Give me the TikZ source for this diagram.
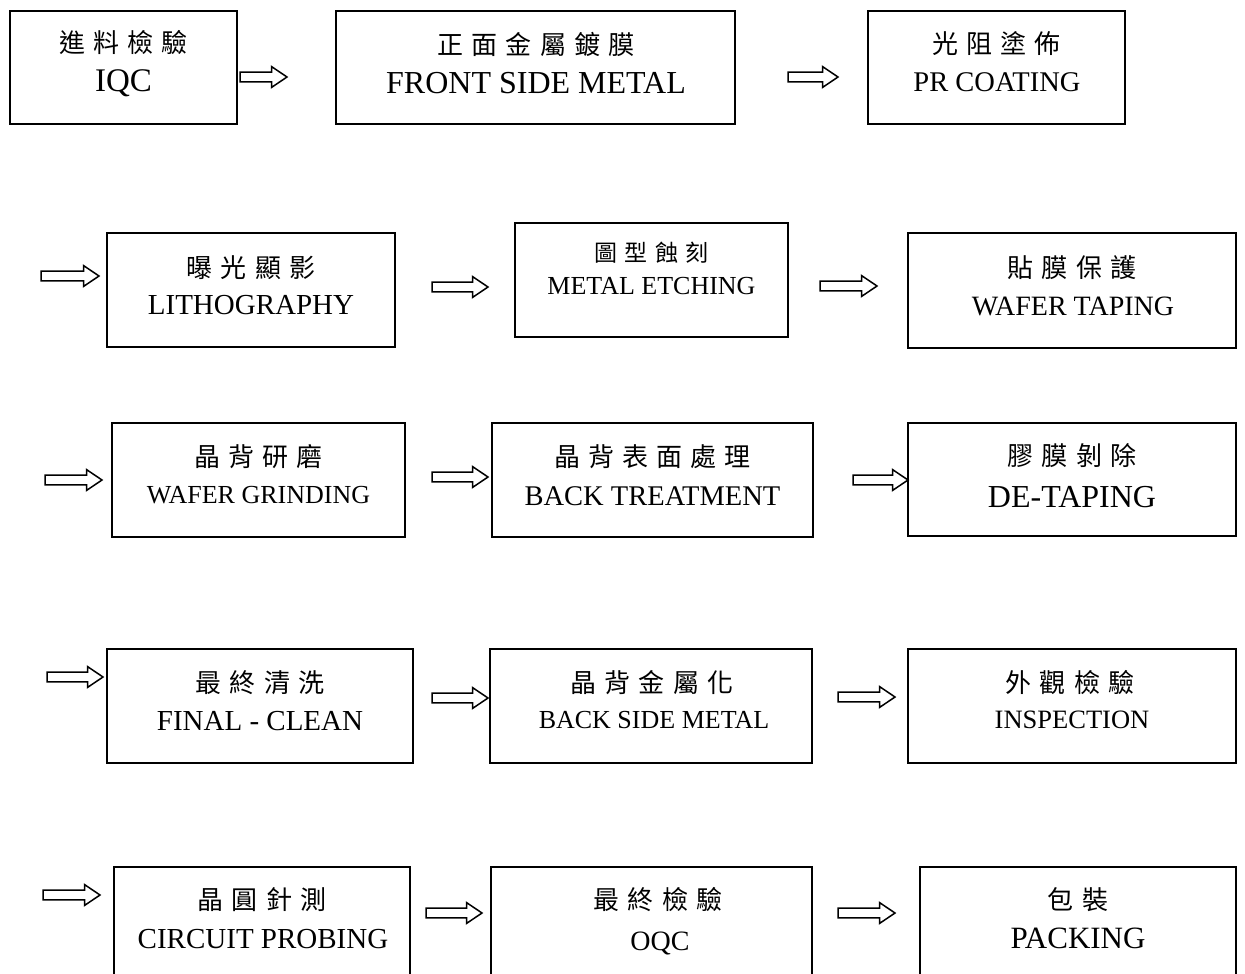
\documentclass[tikz,border=0pt]{standalone}
\usepackage{fontspec}
\setmainfont{Liberation Serif}
\newfontfamily\cjkf[LetterSpace=31]{Noto Sans CJK TC}
\usetikzlibrary{shapes.arrows}
\tikzset{
  box/.style={draw, line width=1.5pt, inner sep=0pt, outer sep=0pt},
  cjkt/.style={inner sep=0pt, font={\cjkf\fontsize{#1}{#1}\selectfont}},
  engt/.style={inner sep=0pt, anchor=base, font={\fontsize{#1}{#1}\selectfont}},
  harrow/.style={single arrow, draw, line width=1.5pt, inner sep=0pt, inner ysep=4.2pt,
    single arrow head extend=5.5pt, single arrow tip angle=68, minimum height=#1,
    anchor=tail, outer sep=0pt},
}
\newcommand\pbox[5]{\node[box, minimum width={#4pt-#2pt}, minimum height={#5pt-#3pt}] (#1) at ({(#2+#4)/2},{(#3+#5)/2}) {};}
\newcommand\zh[1]{#1\hspace{-.31em}}
\begin{document}
\begin{tikzpicture}[x=1pt,y=-1pt]
\useasboundingbox (0,0) rectangle (1245,974);
\clip (0,0) rectangle (1245,974);
% boxes
\pbox{b1}{10}{11}{237}{124}
\pbox{b2}{336}{11}{735}{124}
\pbox{b3}{868}{11}{1125}{124}
\pbox{b4}{107}{233}{395}{347}
\pbox{b5}{515}{223}{788}{337}
\pbox{b6}{908}{233}{1236}{348}
\pbox{b7}{112}{423}{405}{537}
\pbox{b8}{492}{423}{813}{537}
\pbox{b9}{908}{423}{1236}{536}
\pbox{b10}{107}{649}{413}{763}
\pbox{b11}{490}{649}{812}{763}
\pbox{b12}{908}{649}{1236}{763}
\pbox{b13}{114}{867}{410}{990}
\pbox{b14}{491}{867}{812}{990}
\pbox{b15}{920}{867}{1236}{990}
% texts
\node[cjkt=26] (b1c) at (123.5,43) {\zh{進料檢驗}};
\node[engt=33] (b1e) at (123.5,92) {IQC};
\node[cjkt=26] (b2c) at (536,44) {\zh{正面金屬鍍膜}};
\node[engt=32] (b2e) at (536,93) {FRONT SIDE METAL};
\node[cjkt=26] (b3c) at (996.5,44) {\zh{光阻塗佈}};
\node[engt=28.5] (b3e) at (997,92) {PR COATING};
\node[cjkt=26] (b4c) at (251,268) {\zh{曝光顯影}};
\node[engt=29] (b4e) at (251,314) {LITHOGRAPHY};
\node[cjkt=23] (b5c) at (651.5,253) {\zh{圖型蝕刻}};
\node[engt=26] (b5e) at (651.5,294) {METAL ETCHING};
\node[cjkt=26] (b6c) at (1072,268) {\zh{貼膜保護}};
\node[engt=28] (b6e) at (1073,315) {WAFER TAPING};
\node[cjkt=26] (b7c) at (258.5,457) {\zh{晶背研磨}};
\node[engt=26] (b7e) at (258.5,503) {WAFER GRINDING};
\node[cjkt=26] (b8c) at (652.5,457) {\zh{晶背表面處理}};
\node[engt=28.5] (b8e) at (652.5,505) {BACK TREATMENT};
\node[cjkt=26] (b9c) at (1072,456) {\zh{膠膜剝除}};
\node[engt=32] (b9e) at (1072,507) {DE-TAPING};
\node[cjkt=26] (b10c) at (260,683) {\zh{最終清洗}};
\node[engt=29] (b10e) at (260,730) {FINAL - CLEAN};
\node[cjkt=26] (b11c) at (652,683) {\zh{晶背金屬化}};
\node[engt=26] (b11e) at (654,728) {BACK SIDE METAL};
\node[cjkt=26] (b12c) at (1070,683) {\zh{外觀檢驗}};
\node[engt=26.5] (b12e) at (1072,728) {INSPECTION};
\node[cjkt=26] (b13c) at (262,900) {\zh{晶圓針測}};
\node[engt=29] (b13e) at (263,948) {CIRCUIT PROBING};
\node[cjkt=26] (b14c) at (658,900) {\zh{最終檢驗}};
\node[engt=28] (b14e) at (660,950) {OQC};
\node[cjkt=26] (b15c) at (1078,900) {\zh{包裝}};
\node[engt=31] (b15e) at (1078,948) {PACKING};
% arrows
\node[harrow=47pt] (a1) at (240,77) {};
\node[harrow=50pt] (a2) at (788,77) {};
\node[harrow=58pt] (a3) at (41,276) {};
\node[harrow=56pt] (a4) at (432,287) {};
\node[harrow=57pt] (a5) at (820,286) {};
\node[harrow=57pt] (a6) at (45,480) {};
\node[harrow=56pt] (a7) at (432,477) {};
\node[harrow=55pt] (a8) at (853,480) {};
\node[harrow=56pt] (a9) at (47,677) {};
\node[harrow=56pt] (a10) at (432,698) {};
\node[harrow=57pt] (a11) at (838,697) {};
\node[harrow=57pt] (a12) at (43,895) {};
\node[harrow=56pt] (a13) at (426,913) {};
\node[harrow=57pt] (a14) at (838,913) {};
\end{tikzpicture}
\end{document}
